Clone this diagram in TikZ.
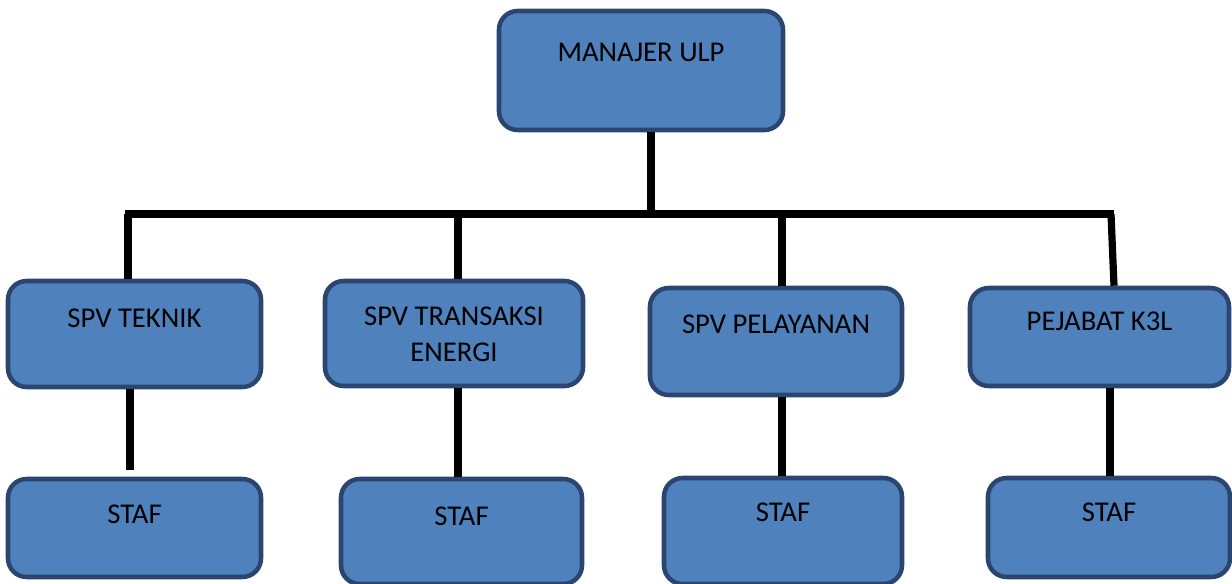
\documentclass[tikz,border=0pt]{standalone}
\usepackage{fontspec}
\setmainfont{Carlito}
\usepackage{tikz}

\definecolor{unitfill}{HTML}{4F81BD}
\definecolor{unitline}{HTML}{2A4670}

\begin{document}
\begin{tikzpicture}[x=.75pt,y=-.75pt,
	unit/.style={draw=unitline,fill=unitfill,line width=3.4pt,rounded corners=14pt,
		inner sep=0pt,align=center,font=\fontsize{21.5}{27}\selectfont},
	link/.style={line width=5.4pt,black}]
	\useasboundingbox (0,0) rectangle (1232,584);
	\clip (0,0) rectangle (1232,584);

	\node[unit,minimum width=213pt,text height=38.25pt,text depth=51pt] (mgr) at (641,70.5) {MANAJER ULP};

	\node[unit,minimum width=189.75pt,text height=35.25pt,text depth=44.25pt] (teknik) at (134.5,334) {SPV TEKNIK};
	\node[unit,minimum width=193.5pt,text height=60.75pt,text depth=18pt] (transaksi) at (454,333.5) {SPV TRANSAKSI\\ENERGI};
	\node[unit,minimum width=189pt,text height=34.5pt,text depth=45.75pt] (pelayanan) at (776,341.5) {SPV PELAYANAN};
	\node[unit,minimum width=194.25pt,text height=32.25pt,text depth=41.25pt] (k3l) at (1099.5,337) {PEJABAT K3L};

	\node[unit,minimum width=189.75pt,text height=33pt,text depth=40.5pt] (staf1) at (134.5,528) {STAF};
	\node[unit,minimum width=180.75pt,text height=35pt,text depth=43.75pt] (staf2) at (461.5,531.5) {STAF};
	\node[unit,minimum width=178.5pt,text height=33pt,text depth=46.5pt] (staf3) at (783,531) {STAF};
	\node[unit,minimum width=181.5pt,text height=33pt,text depth=41.25pt] (staf4) at (1109,527.5) {STAF};

	% bar
	\coordinate (barL) at (125,214);
	\coordinate (barR) at (1114,214);
	\coordinate (stub) at (130,470);
	\draw[link] (barL) -- (barR);
	\draw[link] (651,0 |- mgr.south) -- (651,0 |- barL);

	\draw[link] (128,214) -- (128,0 |- teknik.north);
	\draw[link] (458,214) -- (458,0 |- transaksi.north);
	\draw[link] (782,214) -- (782,0 |- pelayanan.north);
	\draw[link] (1111,214) -- (1114,0 |- k3l.north);

	\draw[link] (130,0 |- teknik.south) -- (stub);
	\draw[link] (458,0 |- transaksi.south) -- (458,0 |- staf2.north);
	\draw[link] (782,0 |- pelayanan.south) -- (782,0 |- staf3.north);
	\draw[link] (1110,0 |- k3l.south) -- (1110,0 |- staf4.north);
\end{tikzpicture}
\end{document}
